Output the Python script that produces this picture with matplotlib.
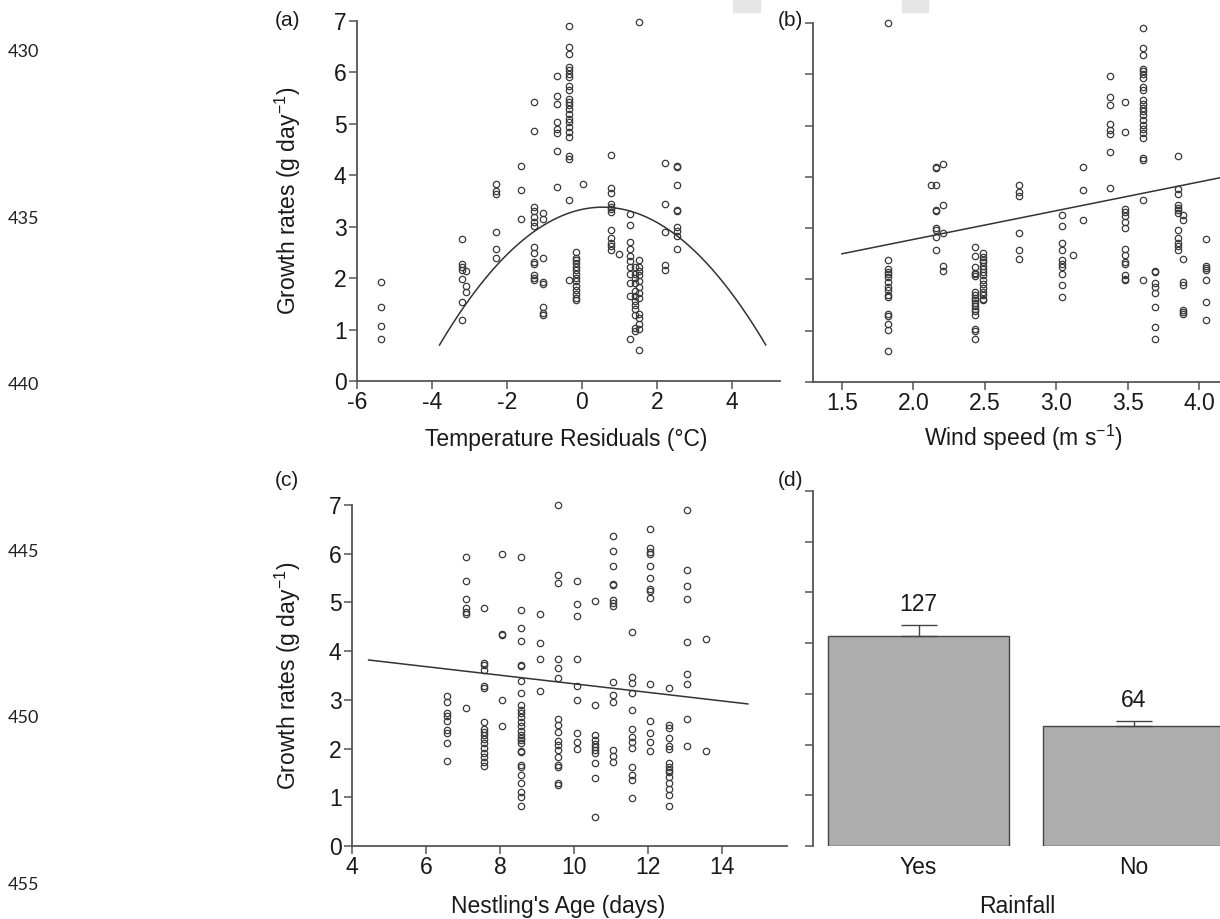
import matplotlib
matplotlib.use("Agg")
import matplotlib.pyplot as plt
from matplotlib.patches import Rectangle
import numpy as np

plt.rcParams['font.family'] = ['Liberation Sans', 'DejaVu Sans']
plt.rcParams['mathtext.default'] = 'regular'
plt.rcParams['axes.unicode_minus'] = False

# (a) growth rate vs temperature residuals, one list of rates per x column
temp_cols = [-5.37, -3.21, -3.10, -2.30, -1.63, -1.28, -1.05, -0.68, -0.35,
             -0.16, 0.03, 0.76, 0.98, 1.29, 1.40, 1.51, 2.22, 2.53]
temp_rates = [
    [1.92, 1.44, 1.07, 0.81],
    [2.77, 2.27, 2.21, 2.16, 1.98, 1.54, 1.19],
    [2.14, 1.85, 1.73],
    [3.83, 3.70, 3.64, 2.90, 2.56, 2.39],
    [4.19, 3.71, 3.15],
    [5.42, 4.86, 3.38, 3.30, 3.19, 3.10, 3.01, 2.60, 2.49, 2.32, 2.27, 2.06, 2.01, 1.96],
    [3.26, 3.15, 2.39, 1.92, 1.88, 1.43, 1.33, 1.29],
    [5.94, 5.54, 5.39, 5.03, 4.90, 4.82, 4.47, 3.77],
    [6.90, 6.49, 6.36, 6.10, 6.04, 5.97, 5.91, 5.73, 5.65, 5.49, 5.42, 5.36, 5.29,
     5.19, 5.10, 5.03, 4.94, 4.84, 4.74, 4.38, 4.32, 3.52, 1.96],
    [2.50, 2.40, 2.35, 2.29, 2.22, 2.16, 2.09, 2.01, 1.94, 1.85, 1.77, 1.69, 1.62, 1.58],
    [3.83],
    [4.40, 3.75, 3.65, 3.44, 3.39, 3.34, 3.29, 2.94, 2.79, 2.69, 2.63, 2.55],
    [2.47],
    [3.25, 3.04, 2.71, 2.56, 2.44, 2.34, 2.21, 2.09, 1.90, 1.66, 0.82],
    [2.21, 2.09, 2.00, 1.90, 1.75, 1.66, 1.56, 1.48, 1.40, 1.28, 1.04, 0.97],
    [6.99, 2.35, 2.21, 2.13, 2.06, 1.95, 1.82, 1.72, 1.62, 1.30, 1.23, 1.10, 1.01, 0.60],
    [4.24, 3.44, 2.89, 2.25, 2.16],
    [4.19, 4.16, 3.82, 3.32, 3.31, 2.99, 2.92, 2.82, 2.56],
]
temp_fit = [3.337, 0.156, -0.1416]   # quadratic: c0 + c1*x + c2*x^2
temp_fit_range = [-3.8, 4.9]

# (b) growth rate vs wind speed
wind_cols = [1.82, 2.12, 2.16, 2.21, 2.43, 2.49, 2.74, 3.04, 3.12, 3.19,
             3.38, 3.48, 3.61, 3.69, 3.85, 3.89, 4.05]
wind_rates = [
    [7.00, 2.37, 2.21, 2.14, 2.10, 2.05, 1.95, 1.85, 1.79, 1.69, 1.66, 1.33, 1.28, 1.14, 1.01, 0.60],
    [3.85],
    [4.20, 4.17, 3.85, 3.35, 3.33, 3.00, 2.97, 2.83, 2.57],
    [4.26, 3.46, 2.90, 2.27, 2.16],
    [2.63, 2.45, 2.24, 2.12, 2.10, 2.06, 1.75, 1.69, 1.64, 1.59, 1.54, 1.49, 1.43,
     1.38, 1.30, 1.04, 0.99, 0.83],
    [2.51, 2.44, 2.38, 2.34, 2.27, 2.21, 2.14, 2.08, 1.99, 1.92, 1.84, 1.75, 1.69, 1.62, 1.59],
    [3.85, 3.70, 3.62, 2.90, 2.58, 2.40],
    [3.26, 3.05, 2.71, 2.57, 2.37, 2.31, 2.24, 2.10, 1.90, 1.66],
    [2.48],
    [4.20, 3.74, 3.15],
    [5.96, 5.56, 5.41, 5.04, 4.91, 4.84, 4.48, 3.78],
    [5.45, 4.87, 3.38, 3.31, 3.23, 3.12, 3.00, 2.60, 2.47, 2.34, 2.31, 2.08, 2.01, 1.98],
    [6.91, 6.51, 6.38, 6.11, 6.06, 6.00, 5.93, 5.75, 5.69, 5.50, 5.43, 5.35, 5.28,
     5.20, 5.10, 5.02, 4.94, 4.85, 4.76, 4.37, 4.33, 3.54, 1.98],
    [2.16, 2.14, 1.93, 1.85, 1.74, 1.46, 1.07, 0.83],
    [4.41, 3.77, 3.67, 3.46, 3.40, 3.35, 3.29, 2.96, 2.81, 2.71, 2.65, 2.57],
    [3.25, 3.15, 2.40, 1.95, 1.90, 1.41, 1.36, 1.32],
    [2.78, 2.27, 2.23, 2.19, 1.98, 1.56, 1.20],
]
wind_fit = [1.66, 0.56]              # intercept, slope
wind_fit_range = [1.5, 4.2]

# (c) growth rate vs nestling age
age_cols = [6.58, 7.07, 7.56, 8.06, 8.57, 9.07, 9.56, 10.07, 10.56,
            11.06, 11.57, 12.06, 12.56, 13.06, 13.57]
age_rates = [
    [3.07, 2.96, 2.72, 2.66, 2.57, 2.38, 2.31, 2.11, 1.75],
    [5.93, 5.43, 5.07, 4.88, 4.81, 4.76, 2.83],
    [4.89, 3.76, 3.72, 3.61, 3.29, 3.24, 2.55, 2.40, 2.35, 2.28, 2.19, 2.11, 2.01,
     1.90, 1.83, 1.73, 1.64],
    [6.00, 4.35, 4.33, 3.00, 2.46],
    [5.94, 4.85, 4.47, 4.20, 3.72, 3.70, 3.39, 3.15, 2.90, 2.79, 2.72, 2.64, 2.55,
     2.46, 2.37, 2.28, 2.21, 2.18, 2.12, 1.94, 1.92, 1.66, 1.62, 1.46, 1.29, 1.10, 1.01, 0.82],
    [4.76, 4.16, 3.83, 3.19],
    [7.00, 5.56, 5.39, 3.83, 3.65, 3.44, 2.60, 2.48, 2.35, 2.16, 2.07, 1.97, 1.83,
     1.66, 1.62, 1.29, 1.25],
    [5.43, 4.97, 4.73, 3.83, 3.29, 3.00, 2.31, 2.14, 1.99],
    [5.02, 2.90, 2.28, 2.18, 2.09, 2.04, 1.97, 1.90, 1.70, 1.39, 0.59],
    [6.37, 6.06, 5.74, 5.37, 5.36, 5.05, 4.98, 4.93, 3.36, 3.10, 2.96, 1.97, 1.85, 1.73],
    [4.39, 3.46, 3.35, 3.15, 2.79, 2.40, 2.24, 2.14, 2.01, 1.63, 1.46, 1.36, 0.99],
    [6.50, 6.11, 6.04, 6.00, 5.74, 5.50, 5.28, 5.24, 5.10, 3.33, 2.57, 2.31, 2.14, 1.96],
    [3.24, 2.48, 2.42, 2.21, 2.05, 2.00, 1.70, 1.63, 1.56, 1.51, 1.42, 1.29, 1.16, 1.05, 0.82],
    [6.90, 5.67, 5.34, 5.07, 4.19, 3.53, 3.33, 2.60, 2.05],
    [4.24, 1.94],
]
age_fit = [4.21, -0.088]
age_fit_range = [4.45, 14.7]

# (d) mean growth rate by rainfall
rain_labels = ['Yes', 'No']
rain_means = [4.14, 2.37]
rain_se = [0.22, 0.09]
rain_n = [127, 64]

line_numbers = [430, 435, 440, 445, 450, 455]

W, H = 1220, 919
axis_gray = '#555555'
ink = '#1a1a1a'
fs = 16.5
ylab = 'Growth rates (g day$^{-1}$)'


def flatten(cols, rates):
    xs = np.repeat(cols, [len(r) for r in rates])
    ys = np.concatenate([np.asarray(r, float) for r in rates])
    return xs, ys


def px_axes(fig, left, top, right, bottom):
    return fig.add_axes([left / W, 1 - bottom / H, (right - left) / W, (bottom - top) / H])


def style(ax):
    for s in ['top', 'right']:
        ax.spines[s].set_visible(False)
    for s in ['left', 'bottom']:
        ax.spines[s].set_color(axis_gray)
        ax.spines[s].set_linewidth(1.3)
    ax.tick_params(direction='out', length=6, width=1.1, color=axis_gray,
                   labelsize=fs, labelcolor=ink, pad=1.5)


def scatter(ax, cols, rates):
    xs, ys = flatten(cols, rates)
    ax.plot(xs, ys, 'o', mfc='none', mec='#3a3a3a', ms=4.6, mew=0.9, clip_on=False)


fig = plt.figure(figsize=(W / 100, H / 100), dpi=100)

# panel (a)
ax_a = px_axes(fig, 357, 21, 780, 381)
style(ax_a)
scatter(ax_a, temp_cols, temp_rates)
xf = np.linspace(temp_fit_range[0], temp_fit_range[1], 200)
ax_a.plot(xf, temp_fit[0] + temp_fit[1] * xf + temp_fit[2] * xf ** 2, color='#333333', lw=1.1)
ax_a.set_xlim(-6, 5.28)
ax_a.set_ylim(0, 7)
ax_a.set_xticks([-6, -4, -2, 0, 2, 4])
ax_a.set_yticks(range(8))
ax_a.set_xlabel('Temperature Residuals (°C)', fontsize=fs, va='baseline', color=ink)
ax_a.xaxis.set_label_coords(0.494, -0.181)
ax_a.set_ylabel(ylab, fontsize=fs, va='center', color=ink)
ax_a.yaxis.set_label_coords(-0.163, 0.5)

# panel (b)
ax_b = px_axes(fig, 813, 23, 1220, 382)
style(ax_b)
scatter(ax_b, wind_cols, wind_rates)
xf = np.array(wind_fit_range)
ax_b.plot(xf, wind_fit[0] + wind_fit[1] * xf, color='#333333', lw=1.1)
ax_b.set_xlim(1.297, 4.147)
ax_b.set_ylim(0, 7)
ax_b.set_xticks([1.5, 2.0, 2.5, 3.0, 3.5, 4.0])
ax_b.set_xticklabels(['1.5', '2.0', '2.5', '3.0', '3.5', '4.0'])
ax_b.set_yticks(range(8))
ax_b.set_yticklabels([])
ax_b.set_xlabel('Wind speed (m s$^{-1}$)', fontsize=fs, va='baseline', color=ink)
ax_b.xaxis.set_label_coords(0.516, -0.178)

# panel (c)
ax_c = px_axes(fig, 352, 505, 787, 846)
style(ax_c)
scatter(ax_c, age_cols, age_rates)
xf = np.array(age_fit_range)
ax_c.plot(xf, age_fit[0] + age_fit[1] * xf, color='#333333', lw=1.1)
ax_c.set_xlim(4, 15.76)
ax_c.set_ylim(0, 7)
ax_c.set_xticks([4, 6, 8, 10, 12, 14])
ax_c.set_yticks(range(8))
ax_c.set_xlabel("Nestling's Age (days)", fontsize=fs, va='baseline', color=ink)
ax_c.xaxis.set_label_coords(0.474, -0.196)
ax_c.set_ylabel(ylab, fontsize=fs, va='center', color=ink)
ax_c.yaxis.set_label_coords(-0.147, 0.5)

# panel (d)
ax_d = px_axes(fig, 813, 491, 1220, 846)
style(ax_d)
ax_d.spines['bottom'].set_visible(False)
pos = np.arange(len(rain_labels))
ax_d.bar(pos, rain_means, width=0.842, color='#adadad', edgecolor='#444444', linewidth=1.0)
ax_d.errorbar(pos, rain_means, yerr=[[0] * len(rain_se), rain_se], fmt='none',
              ecolor='#444444', elinewidth=1.0, capsize=13, capthick=1.0)
for p, m, s, n in zip(pos, rain_means, rain_se, rain_n):
    ax_d.annotate(str(n), (p, m + s), xytext=(0, 10), textcoords='offset points',
                  ha='center', va='baseline', fontsize=fs, color=ink)
ax_d.set_xlim(-0.491, 1.402)
ax_d.set_ylim(0, 7)
ax_d.set_yticks(range(8))
ax_d.set_yticklabels([])
ax_d.set_xticks(pos)
ax_d.set_xticklabels(rain_labels)
ax_d.tick_params(axis='x', length=0, pad=7)
ax_d.set_xlabel('Rainfall', fontsize=fs, va='baseline', color=ink)
ax_d.xaxis.set_label_coords(0.502, -0.189)

# panel letters
for lab, x, y in [('(a)', 287, 20), ('(b)', 790, 21), ('(c)', 287, 480), ('(d)', 790, 480)]:
    fig.text(x / W, 1 - y / H, lab, ha='center', va='center', fontsize=15, color=ink)

# manuscript line numbers in the margin
for i, num in enumerate(line_numbers):
    y = 52 + i * 166.6
    fig.text(23 / W, 1 - y / H, str(num), ha='center', va='center', fontsize=13,
             family=['Lato', 'DejaVu Sans'], color='#222222')

# faint grey blocks along the top edge
for x0, w in [(733, 27), (902, 26)]:
    fig.patches.append(Rectangle((x0 / W, 1 - 12 / H), w / W, 12 / H,
                                 transform=fig.transFigure, color='#e6e6e6', zorder=0))

fig.savefig('out.png', dpi=100)
